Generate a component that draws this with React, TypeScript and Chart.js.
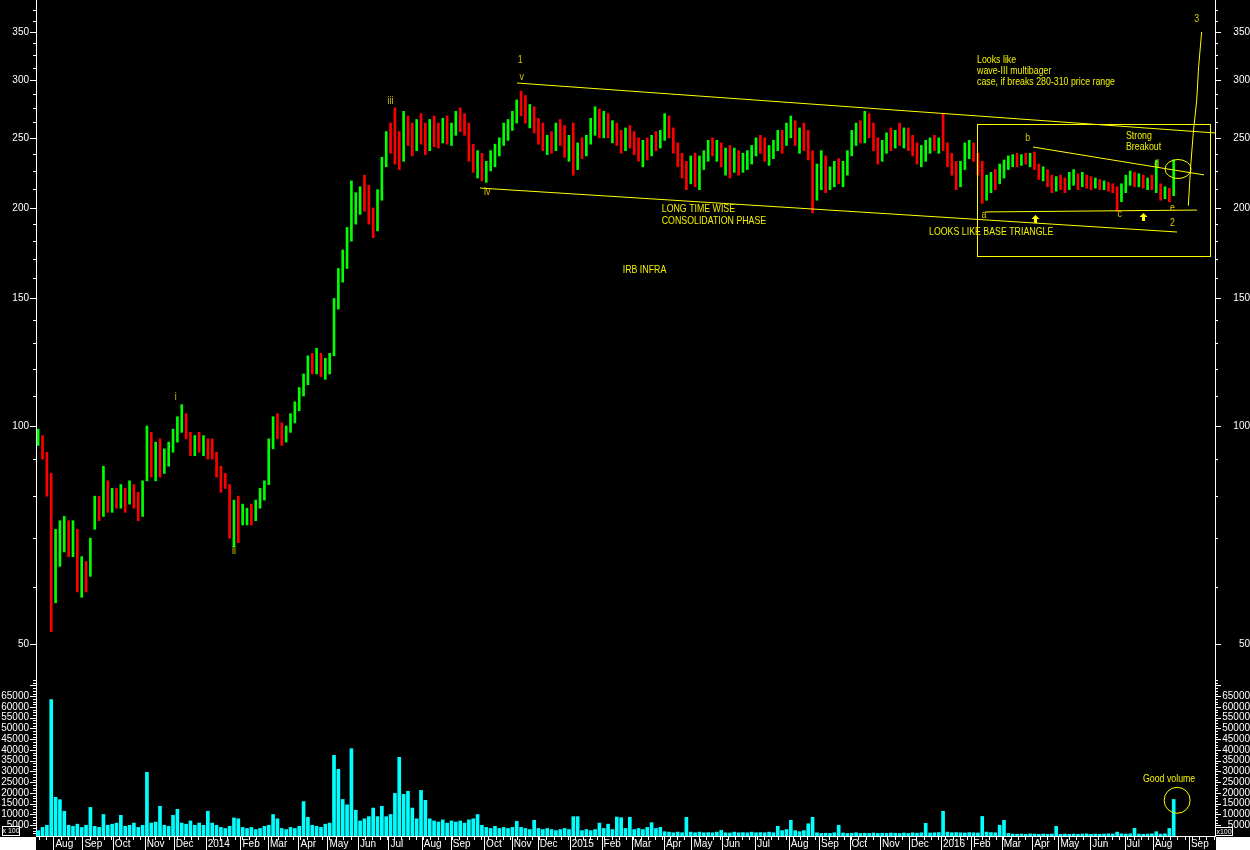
import React, { useEffect, useRef } from 'react';
import { Chart, registerables } from 'chart.js';

Chart.register(...registerables);

const FONT = '"Liberation Sans", Arial, sans-serif';

// ---- time axis (trading-day index) ----
const monthStarts = [12, 32, 53, 75, 95, 117, 141, 160, 181, 201, 222, 243, 266, 286, 309, 328, 346, 368, 390, 411, 433, 452, 473, 496, 519, 540, 561, 582, 602, 624, 645, 666, 687, 705, 727, 751, 770, 795];
const monthLabels = ['Aug', 'Sep', 'Oct', 'Nov', 'Dec', '2014', 'Feb', 'Mar', 'Apr', 'May', 'Jun', 'Jul', 'Aug', 'Sep', 'Oct', 'Nov', 'Dec', '2015', 'Feb', 'Mar', 'Apr', 'May', 'Jun', 'Jul', 'Aug', 'Sep', 'Oct', 'Nov', 'Dec', '2016', 'Feb', 'Mar', 'Apr', 'May', 'Jun', 'Jul', 'Aug', 'Sep'];
const DAY_MAX = 813;
const DAYS_PER_BAR = 3;

// ---- price axis ----
const priceLabels = [50, 100, 150, 200, 250, 300, 350];
const priceMinorTicks = [40, 50, 60, 70, 80, 90, 100, 110, 120, 130, 140, 150, 160, 170, 180, 190, 200, 212.5, 225, 237.5, 250, 262.5, 275, 287.5, 300, 312.5, 325, 337.5, 350, 362.5, 375];
const PRICE_MIN = 44.59;
const PRICE_MAX = 387.5;

// ---- volume axis (x100) ----
const volumeLabels = [5000, 10000, 15000, 20000, 25000, 30000, 35000, 40000, 45000, 50000, 55000, 60000, 65000];
const VOL_MAX = 72558;

// ---- bars (3 trading days each) ----
const priceHigh = [
  99, 97, 92, 86, 72, 74, 75, 74, 74, 72,
  66, 65, 70, 80, 80, 88, 84, 82, 82, 83,
  82, 84, 83, 81, 84, 100, 98, 95, 96, 93,
  95, 99, 103, 107, 104, 98, 97, 98, 97, 96,
  96, 92, 88, 86, 83, 79, 80, 78, 77, 78,
  79, 82, 84, 96, 103, 104, 101, 100, 104, 108,
  113, 118, 125, 126, 128, 126, 124, 126, 150, 165,
  175, 188, 218, 210, 214, 222, 215, 200, 212, 235,
  255, 262, 275, 255, 272, 268, 262, 265, 270, 262,
  265, 268, 262, 266, 268, 262, 272, 275, 270, 262,
  245, 240, 238, 232, 240, 245, 250, 262, 265, 272,
  282, 290, 286, 278, 276, 266, 262, 252, 255, 262,
  265, 260, 252, 262, 246, 250, 252, 266, 276, 274,
  272, 270, 264, 262, 256, 258, 260, 255, 250, 248,
  250, 252, 255, 256, 270, 268, 258, 246, 238, 232,
  236, 238, 236, 240, 248, 250, 248, 246, 242, 244,
  242, 240, 238, 240, 244, 250, 252, 250, 244, 248,
  256, 256, 262, 268, 264, 258, 262, 256, 240, 230,
  240, 236, 228, 232, 234, 232, 240, 256, 262, 264,
  272, 270, 262, 250, 248, 254, 258, 256, 262, 258,
  258, 252, 246, 244, 248, 250, 252, 250, 270, 246,
  238, 232, 232, 246, 248, 246, 238, 232, 222, 224,
  226, 230, 233, 236, 237, 238, 237, 238, 238, 239,
  230, 228, 226, 222, 221, 222, 220, 224, 226, 223,
  224, 222, 221, 220, 219, 218, 217, 216, 214, 216,
  222, 225, 224, 223, 222, 220, 222, 233, 216, 214,
  213, 233,
];
const priceLow = [
  94, 90, 80, 52, 57, 64, 67, 66, 66, 59,
  58, 59, 62, 72, 74, 75, 76, 76, 77, 77,
  76, 78, 77, 74, 75, 84, 85, 84, 85, 86,
  88, 92, 95, 98, 96, 91, 91, 92, 91, 90,
  90, 85, 81, 82, 70, 68, 69, 73, 73, 73,
  74, 77, 79, 83, 93, 96, 94, 95, 98, 101,
  105, 110, 114, 118, 118, 117, 116, 118, 125, 145,
  158, 165, 180, 190, 196, 198, 190, 182, 186, 205,
  228, 238, 230, 226, 232, 244, 236, 240, 245, 237,
  240, 243, 242, 246, 245, 244, 252, 255, 252, 232,
  224, 220, 218, 217, 225, 228, 236, 244, 248, 256,
  262, 268, 262, 258, 254, 245, 240, 237, 238, 240,
  244, 235, 232, 222, 226, 234, 236, 245, 252, 250,
  250, 250, 246, 244, 238, 240, 242, 237, 232, 228,
  233, 236, 240, 242, 248, 250, 238, 228, 220, 212,
  216, 214, 212, 226, 232, 236, 232, 228, 222, 220,
  224, 222, 224, 226, 230, 236, 238, 232, 229, 234,
  240, 238, 244, 250, 244, 238, 240, 233, 197, 205,
  212, 210, 212, 214, 216, 214, 222, 236, 244, 246,
  246, 250, 240, 230, 232, 238, 240, 242, 244, 242,
  240, 236, 230, 228, 232, 238, 240, 238, 240, 228,
  222, 212, 214, 226, 234, 232, 222, 203, 205, 210,
  212, 216, 220, 226, 228, 228, 229, 230, 228, 226,
  219, 218, 214, 210, 211, 212, 210, 212, 215, 212,
  214, 213, 212, 213, 212, 212, 211, 210, 198, 204,
  210, 215, 214, 214, 213, 212, 212, 210, 205, 206,
  204, 208,
];
const priceClose = [
  97, 91, 82, 57, 66, 70, 72, 68, 71, 61,
  62, 60, 68, 77, 76, 82, 78, 80, 79, 81,
  78, 82, 79, 76, 83, 96, 88, 92, 87, 91,
  93, 97, 101, 103, 98, 93, 95, 94, 95, 93,
  91, 87, 84, 83, 74, 76, 73, 75, 76, 75,
  78, 81, 83, 94, 100, 98, 96, 99, 102, 106,
  111, 115, 122, 120, 126, 119, 120, 124, 146, 160,
  168, 184, 200, 205, 208, 204, 194, 188, 208, 230,
  250, 245, 240, 232, 262, 250, 245, 258, 250, 248,
  256, 252, 248, 262, 252, 256, 265, 262, 258, 238,
  228, 235, 225, 228, 236, 242, 246, 258, 262, 268,
  278, 272, 266, 270, 258, 250, 245, 248, 242, 258,
  250, 238, 247, 230, 242, 238, 250, 262, 268, 255,
  266, 255, 258, 250, 246, 252, 248, 242, 236, 244,
  240, 248, 245, 252, 265, 255, 240, 232, 226, 222,
  230, 220, 230, 236, 244, 240, 246, 234, 238, 228,
  236, 230, 234, 238, 242, 246, 245, 236, 240, 245,
  252, 244, 258, 262, 248, 252, 244, 238, 210, 222,
  230, 216, 224, 226, 220, 228, 236, 252, 258, 250,
  266, 256, 244, 234, 244, 248, 244, 252, 248, 254,
  244, 242, 235, 240, 244, 246, 244, 248, 244, 232,
  226, 218, 228, 240, 244, 236, 226, 210, 216, 220,
  218, 226, 230, 232, 234, 232, 235, 233, 236, 228,
  222, 224, 218, 215, 218, 216, 214, 220, 222, 216,
  220, 217, 216, 218, 215, 216, 214, 212, 206, 214,
  220, 222, 218, 220, 216, 218, 214, 214, 208, 212,
  208, 230,
];
const volume = [
  2500, 4000, 5000, 63500, 18000, 16900, 11500, 5000, 4500, 5500,
  4000, 5000, 13300, 4500, 4000, 10000, 5000, 5500, 6000, 9600,
  4500, 5000, 6000, 4000, 5000, 29600, 6000, 6500, 13800, 5000,
  4500, 9600, 12400, 6000, 5500, 7000, 5000, 6000, 5000, 11500,
  6000, 5000, 4000, 3500, 4500, 8400, 8000, 4000, 3500, 4000,
  3000, 3500, 4500, 5000, 10000, 8000, 3500, 3000, 4000, 3500,
  4500, 16000, 8700, 5000, 4500, 4000, 5500, 6000, 37500, 31000,
  17000, 14500, 40600, 12000, 7000, 8000, 9000, 13000, 9000, 13800,
  9000, 10000, 19800, 36600, 19400, 20800, 13000, 8000, 21200, 16600,
  8000, 7000, 6500, 7500, 6000, 7000, 6500, 7000, 6000, 7500,
  8000, 10000, 5000, 4000, 3500, 4500, 3500, 4000, 3500, 4000,
  6800, 4000, 3500, 3000, 7300, 3500, 3000, 3500, 3000, 2500,
  3000, 3500, 3000, 9000, 9000, 2500, 3000, 2500, 3000, 6000,
  3500, 5500, 3000, 8800, 8500, 3500, 8700, 3000, 3500, 3000,
  4000, 6200, 3500, 4000, 2000, 1800, 1500, 1800, 1500, 8700,
  1800, 1500, 1800, 1500, 1600, 1500, 1800, 2600, 1500, 1400,
  1800, 1500, 1600, 1500, 1800, 1500, 1600, 1500, 1800, 1500,
  4500, 2500, 3000, 7300, 2500, 2000, 2500, 5700, 8700, 1500,
  1200, 1300, 1200, 1500, 5000, 1400, 1200, 1300, 1500, 1200,
  1300, 1200, 1400, 1200, 1300, 1200, 1400, 1300, 1200, 1400,
  1200, 1500, 1300, 1500, 5900, 1400, 1500, 1600, 11500, 1800,
  1500, 1600, 1500, 1400, 1600, 1500, 1400, 9100, 1800, 1600,
  1500, 5000, 7300, 1200, 900, 800, 900, 800, 1000, 900,
  800, 900, 800, 900, 4500, 800, 900, 800, 900, 800,
  900, 1000, 800, 900, 800, 900, 1000, 900, 1800, 1000,
  900, 1000, 3600, 900, 800, 900, 1000, 2000, 900, 1000,
  3500, 17000,
];

// ---- annotations, in (trading day, price) ----
const channelUpper = [[331.7, 297.6], [813, 253.9]];
const channelLower = [[306.2, 213.1], [786.8, 185.3]];
const triangleUpper = [[687.5, 242.8], [805.4, 222.2]];
const triangleBase = [[654.4, 197.5], [800.6, 198.7]];
const waveThreePath = [[794.6, 201.5], [796.2, 228.1], [798.0, 253.6], [800.4, 281.9], [801.7, 313.5], [803.8, 350]];
const baseBox = [[648.9, 261.3], [809.5, 171.7]];
const breakoutCircle = [787.5, 226.4];
const arrowTops = [[688.9, 195.6], [763.4, 196.8]];
const waveLabels: [string, number, number][] = [
  ['i', 96.3, 109.6], ['ii', 136.5, 67.3], ['iii', 244.4, 281.3], ['iv', 311.2, 210.3],
  ['v', 334.9, 303], ['1', 333.9, 320], ['3', 800.4, 365], ['2', 783.7, 191],
  ['a', 653.7, 195.5], ['b', 683.9, 249.5], ['c', 747.3, 196], ['d', 772.8, 230], ['e', 783.7, 200],
];
const notes: [string, number, number][] = [
  ['LONG TIME WISE', 431.5, 199.2],
  ['CONSOLIDATION PHASE', 431.5, 192.1],
  ['IRB INFRA', 404.6, 164.2],
  ['LOOKS LIKE BASE TRIANGLE', 615.8, 185.2],
  ['Looks like', 648.9, 320],
  ['wave-III multibager', 648.9, 309.5],
  ['case, if breaks 280-310 price range', 648.9, 299],
  ['Strong', 751.6, 251.5],
  ['Breakout', 751.6, 243],
];
const volumeNote: [string, number, number] = ['Good volume', 763.3, 26650];
const volumeCircle = [786.9, 16600];

const decorPlugin = {
  id: 'decor',
  beforeDraw(chart: any) {
    const { ctx, width, height } = chart;
    ctx.save();
    ctx.fillStyle = '#000000';
    ctx.fillRect(0, 0, width, height);
    ctx.restore();
  },
  afterDraw(chart: any) {
    const { ctx, chartArea: ca, scales, width, height } = chart;
    const xs = scales.x, ys = scales.y, vs = scales.v;
    const L = ca.left, R = ca.right, B = ca.bottom;
    const X = (d: number) => xs.getPixelForValue(d);
    const Y = (p: number) => ys.getPixelForValue(p);
    const V = (v: number) => vs.getPixelForValue(v);
    const line = (x1: number, y1: number, x2: number, y2: number) => {
      ctx.beginPath(); ctx.moveTo(x1, y1); ctx.lineTo(x2, y2); ctx.stroke();
    };
    ctx.save();
    ctx.strokeStyle = '#ffffff';
    ctx.lineWidth = 1;
    // price ticks
    for (const v of priceMinorTicks) {
      const py = Math.round(Y(v)) + 0.5;
      if (py < ys.top || py > ys.bottom) continue;
      const len = priceLabels.includes(v) ? 6 : 3;
      line(L - len, py, L, py);
      line(R, py, R + len, py);
    }
    // volume ticks
    for (let v = 1250; v < VOL_MAX; v += 1250) {
      const py = Math.round(V(v)) + 0.5;
      const len = v % 5000 === 0 ? 6 : 3;
      line(L - len, py, L, py);
      line(R, py, R + len, py);
    }
    // time ticks
    for (const d of monthStarts) {
      const px = Math.round(X(d)) + 0.5;
      line(px, B, px, height);
    }
    for (let d = 2; d < DAY_MAX; d += 5) {
      const px = Math.round(X(d)) + 0.5;
      line(px, B, px, B + 4);
    }
    // corners
    ctx.fillStyle = '#ffffff';
    ctx.fillRect(0, B + 1, L, height - B);
    ctx.fillRect(R + 1, B + 1, width - R, height - B);
    // x100 boxes
    ctx.fillStyle = '#000000';
    ctx.fillRect(2, B - 10, 18, 10);
    ctx.strokeRect(2.5, B - 9.5, 17, 9);
    ctx.fillRect(R + 1, B - 8, 17, 8);
    ctx.strokeRect(R + 0.5, B - 8.5, 17, 8);
    ctx.fillStyle = '#ffffff';
    ctx.font = '7px ' + FONT;
    ctx.textAlign = 'center';
    ctx.textBaseline = 'middle';
    ctx.fillText('x 100', 11, B - 5);
    ctx.fillText('x100', R + 9, B - 4);

    // annotations
    ctx.strokeStyle = '#ffff00';
    ctx.fillStyle = '#ffff00';
    const poly = (pts: number[][]) => {
      ctx.beginPath();
      pts.forEach(([d, p], i) => {
        const px = X(d), py = Y(p);
        if (i === 0) ctx.moveTo(px, py); else ctx.lineTo(px, py);
      });
      ctx.stroke();
    };
    poly(channelUpper);
    poly(channelLower);
    poly(triangleUpper);
    poly(triangleBase);
    poly(waveThreePath);
    const bx1 = Math.round(X(baseBox[0][0])) + 0.5, by1 = Math.round(Y(baseBox[0][1])) + 0.5;
    const bx2 = Math.round(X(baseBox[1][0])) + 0.5, by2 = Math.round(Y(baseBox[1][1])) + 0.5;
    ctx.strokeRect(bx1, by1, bx2 - bx1, by2 - by1);
    ctx.beginPath();
    ctx.ellipse(X(breakoutCircle[0]), Y(breakoutCircle[1]), 13, 9.5, 0, 0, Math.PI * 2);
    ctx.stroke();
    ctx.beginPath();
    ctx.arc(X(volumeCircle[0]), V(volumeCircle[1]), 13, 0, Math.PI * 2);
    ctx.stroke();
    for (const [d, p] of arrowTops) {
      const ax = Math.round(X(d)), ay = Math.round(Y(p));
      ctx.beginPath();
      ctx.moveTo(ax + 0.5, ay);
      ctx.lineTo(ax - 3.5, ay + 4);
      ctx.lineTo(ax + 4.5, ay + 4);
      ctx.closePath();
      ctx.fill();
      ctx.fillRect(ax - 1, ay + 4, 3, 4);
    }
    const text = (s: string, x: number, y: number, align: CanvasTextAlign, color: string) => {
      ctx.save();
      ctx.translate(x, y);
      ctx.scale(0.8, 1);
      ctx.fillStyle = color;
      ctx.font = '11px ' + FONT;
      ctx.textAlign = align;
      ctx.textBaseline = 'middle';
      ctx.fillText(s, 0, 0);
      ctx.restore();
    };
    for (const [s, d, p] of waveLabels) text(s, X(d), Y(p), 'center', '#d8c800');
    for (const [s, d, p] of notes) text(s, X(d), Y(p), 'left', '#f0f000');
    text(volumeNote[0], X(volumeNote[1]), V(volumeNote[2]), 'left', '#f0f000');
    ctx.restore();
  },
};

function zeroPad(s: any) {
  s.paddingTop = 0; s.paddingBottom = 0; s.paddingLeft = 0; s.paddingRight = 0;
}

function vAxis(kind: 'price' | 'volume', position: 'left' | 'right') {
  const isPrice = kind === 'price';
  const labels = isPrice ? priceLabels : volumeLabels;
  return {
    type: isPrice ? 'logarithmic' : 'linear',
    position,
    stack: 'panes',
    stackWeight: isPrice ? 680 : 156,
    min: isPrice ? PRICE_MIN : 0,
    max: isPrice ? PRICE_MAX : VOL_MAX,
    beginAtZero: false,
    afterFit: (s: any) => { s.width = position === 'left' ? 36 : 35; zeroPad(s); },
    afterBuildTicks: (s: any) => { s.ticks = labels.map((v) => ({ value: v })); },
    grid: { display: true, drawOnChartArea: false, drawTicks: true, tickLength: 6, color: 'rgba(0,0,0,0)' },
    border: { display: true, color: '#ffffff', width: 1 },
    ticks: {
      autoSkip: false,
      color: '#ffffff',
      padding: 1,
      crossAlign: position === 'left' ? 'near' : 'far',
      font: { size: 10, family: FONT },
      callback: (v: any) => String(v),
    },
  };
}

export default function App() {
  const ref = useRef<HTMLCanvasElement>(null);
  useEffect(() => {
    document.body.style.margin = '0';
    document.body.style.background = '#000000';
    const canvas = ref.current!;
    const barDays = priceHigh.map((_, k) => DAYS_PER_BAR / 2 + DAYS_PER_BAR * k);
    const barColors = priceClose.map((c, k) => (k === 0 || c >= priceClose[k - 1] ? '#00ff00' : '#ff0000'));
    const chart = new Chart(canvas, {
      type: 'bar',
      data: {
        datasets: [
          {
            label: 'IRB INFRA',
            data: barDays.map((d, k) => ({ x: d, y: [priceLow[k], priceHigh[k]] })) as any,
            backgroundColor: barColors,
            yAxisID: 'y',
            xAxisID: 'x',
            barThickness: 2,
            grouped: false,
            borderWidth: 0,
          } as any,
          {
            label: 'Volume',
            data: barDays.map((d, k) => ({ x: d, y: volume[k] })) as any,
            backgroundColor: '#00ffff',
            yAxisID: 'v',
            xAxisID: 'x',
            barThickness: 3,
            grouped: false,
            borderWidth: 0,
          } as any,
        ],
      },
      options: {
        responsive: false,
        maintainAspectRatio: false,
        animation: false,
        devicePixelRatio: 1,
        events: [],
        layout: { padding: 0, autoPadding: false },
        plugins: { legend: { display: false }, tooltip: { enabled: false }, title: { display: false } },
        scales: {
          x: {
            type: 'linear',
            position: 'bottom',
            min: 0,
            max: DAY_MAX,
            offset: false,
            afterFit: (s: any) => { s.height = 14; zeroPad(s); },
            afterBuildTicks: (s: any) => { s.ticks = monthStarts.map((v) => ({ value: v })); },
            grid: { display: false, drawTicks: false, offset: false },
            border: { display: true, color: '#ffffff', width: 1 },
            ticks: {
              autoSkip: false,
              maxRotation: 0,
              minRotation: 0,
              align: 'start',
              labelOffset: 2,
              padding: 2,
              color: '#ffffff',
              font: { size: 10, family: FONT },
              callback: (_v: any, i: number) => monthLabels[i] ?? '',
            },
          },
          v: vAxis('volume', 'left'),
          y: vAxis('price', 'left'),
          yR: vAxis('price', 'right'),
          vR: vAxis('volume', 'right'),
        } as any,
      },
      plugins: [decorPlugin],
    });
    return () => chart.destroy();
  }, []);
  return (
    <div style={{ width: 1250, height: 850, background: '#000000' }}>
      <canvas ref={ref} width={1250} height={850} style={{ display: 'block' }} />
    </div>
  );
}
